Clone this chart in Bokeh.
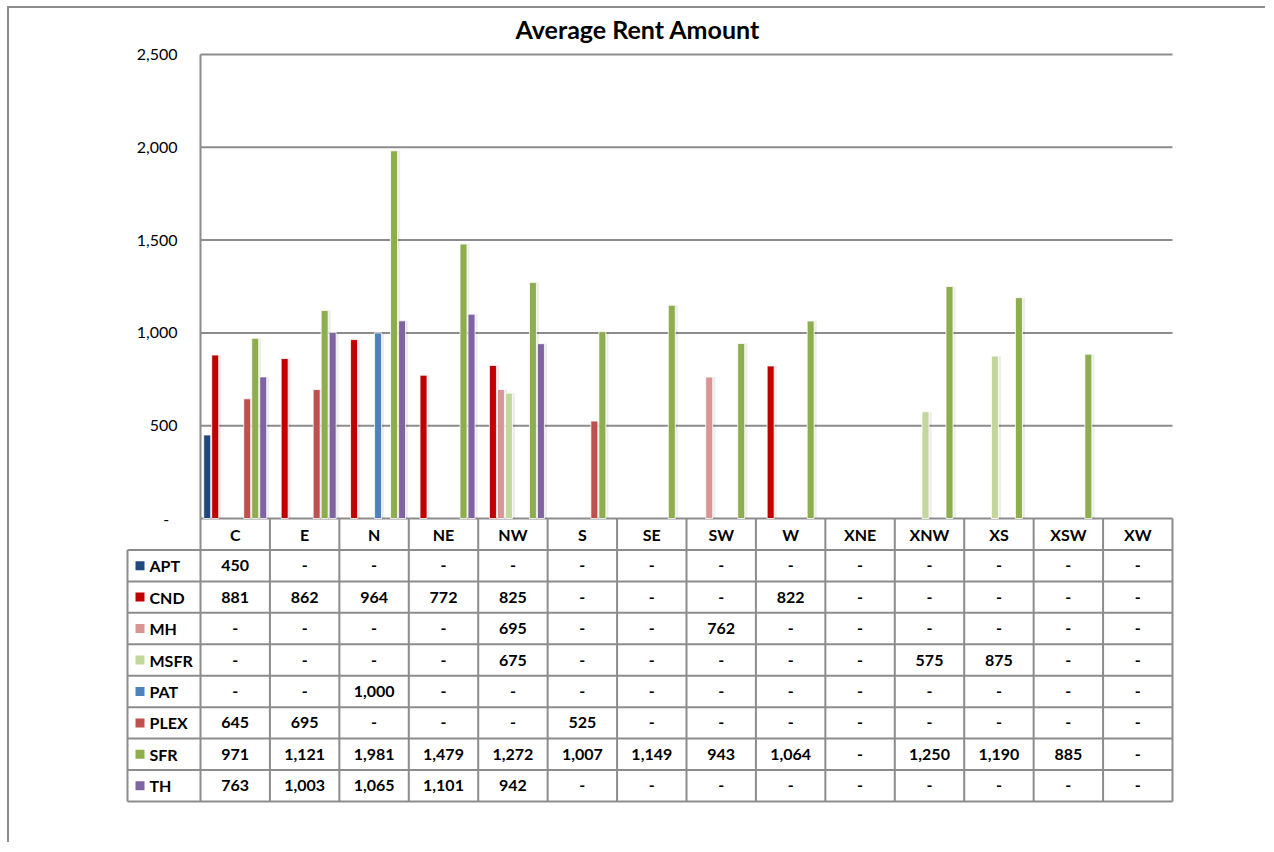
from bokeh.plotting import figure
from bokeh.models import Range1d, ColumnDataSource
from bokeh.embed import file_html
from bokeh.resources import INLINE
from bokeh.core.properties import value

# ---------------- data ----------------
title_text = "Average Rent Amount"
categories = ["C", "E", "N", "NE", "NW", "S", "SE", "SW", "W", "XNE", "XNW", "XS", "XSW", "XW"]
series_names = ["APT", "CND", "MH", "MSFR", "PAT", "PLEX", "SFR", "TH"]
series_colors = ["#1F497D", "#C00000", "#D99594", "#C3D69B", "#4F81BD", "#C0504D", "#8EAD4E", "#8064A2"]

APT = [450, None, None, None, None, None, None, None, None, None, None, None, None, None]
CND = [881, 862, 964, 772, 825, None, None, None, 822, None, None, None, None, None]
MH = [None, None, None, None, 695, None, None, 762, None, None, None, None, None, None]
MSFR = [None, None, None, None, 675, None, None, None, None, None, 575, 875, None, None]
PAT = [None, None, 1000, None, None, None, None, None, None, None, None, None, None, None]
PLEX = [645, 695, None, None, None, 525, None, None, None, None, None, None, None, None]
SFR = [971, 1121, 1981, 1479, 1272, 1007, 1149, 943, 1064, None, 1250, 1190, 885, None]
TH = [763, 1003, 1065, 1101, 942, None, None, None, None, None, None, None, None, None]

y_ticks = [0, 500, 1000, 1500, 2000, 2500]
y_tick_labels = ["-\u00a0\u00a0", "500", "1,000", "1,500", "2,000", "2,500"]

series_values = [APT, CND, MH, MSFR, PAT, PLEX, SFR, TH]

# ---------------- geometry / styling ----------------
FONT = "Lato"
GRID = "#8c8c8c"
n = len(categories)
cat_px = 972 / n                 # pixels per category
slot = 8 / cat_px
bar_w = 7 / cat_px
lab_w = 73 / cat_px              # legend column of the data table
pad_x = 3 / cat_px
k_px = 464 / 2500                # pixels per rent unit
rows = len(series_names) + 1
row_px = 283 / rows
FRAME_TOP = 46

# page origin of the figure: (9, 8); frame spans x 124..1175, y 46..804
p = figure(width=1258, height=836,
           x_range=Range1d(-lab_w - pad_x, n + pad_x),
           y_range=Range1d(-(804 - 518) / k_px, 2500 + (54 - FRAME_TOP) / k_px),
           output_backend="svg", toolbar_location=None,
           x_axis_location=None, y_axis_location=None,
           min_border_left=115, min_border_right=92, min_border_top=FRAME_TOP - 8,
           min_border_bottom=40, title=title_text)
p.extra_y_ranges = {"table": Range1d(-3 / row_px, (801 - FRAME_TOP) / row_px)}
p.outline_line_color = None
p.grid.visible = False

p.title.align = "left"
p.title.offset = 391
p.title.text_font = FONT
p.title.text_font_size = "25px"
p.title.text_font_style = "bold"
p.title.text_color = "black"
p.title.standoff = 6

# gridlines and plot-area left edge
p.segment(x0=[0] * len(y_ticks), x1=[n] * len(y_ticks), y0=y_ticks, y1=y_ticks,
          line_color=GRID, line_width=2)
p.segment(x0=[0], x1=[0], y0=[0], y1=[max(y_ticks)], line_color=GRID, line_width=2)

# y tick labels
p.text(x=[-23 / cat_px] * len(y_ticks), y=y_ticks, text=y_tick_labels,
       text_align="right", text_baseline="middle", text_font=value(FONT),
       text_font_size="16px", text_color="black")

# bars
for s, (name, vals, col) in enumerate(zip(series_names, series_values, series_colors)):
    off = (s - 3.5) * slot
    xs = [i + 0.5 + off for i, v in enumerate(vals) if v is not None]
    tops = [v for v in vals if v is not None]
    src = ColumnDataSource(dict(x=xs, top=tops, xs=[x + 1.6 / cat_px for x in xs]))
    p.vbar(x="xs", top="top", width=bar_w + 2 / cat_px, bottom=0, source=src,
           fill_color="#000000", fill_alpha=0.07, line_color=None)
    p.vbar(x="x", top="top", width=bar_w, bottom=0, source=src,
           fill_color=col, line_color="white", line_width=0.8)

# ---------------- data table ----------------
T = "table"
hy = list(range(0, rows))
p.segment(x0=[-lab_w] * len(hy), x1=[n] * len(hy), y0=hy, y1=hy,
          line_color=GRID, line_width=2, y_range_name=T)
vx = list(range(0, n + 1))
p.segment(x0=vx, x1=vx, y0=[0] * len(vx), y1=[rows] * len(vx),
          line_color=GRID, line_width=2, y_range_name=T)
p.segment(x0=[-lab_w], x1=[-lab_w], y0=[0], y1=[rows - 1],
          line_color=GRID, line_width=2, y_range_name=T)

# header row
p.text(x=[i + 0.5 for i in range(n)], y=[rows - 0.5] * n, text=categories,
       text_align="center", text_baseline="middle", text_font=value(FONT),
       text_font_size="16px", text_font_style="bold", text_color="black", y_range_name=T)

# legend keys and series labels
ry = [rows - r - 1.5 for r in range(len(series_names))]
p.scatter(x=[-lab_w + 12.5 / cat_px] * len(series_names), y=ry, marker="square", size=9,
          fill_color=series_colors, line_color=None, y_range_name=T)
p.text(x=[-lab_w + 22 / cat_px] * len(series_names), y=ry, text=series_names,
       text_align="left", text_baseline="middle", text_font=value(FONT),
       text_font_size="16px", text_font_style="bold", text_color="black", y_range_name=T)

# values
vx_, vy_, vt_ = [], [], []
for r, vals in enumerate(series_values):
    for i, v in enumerate(vals):
        vx_.append(i + 0.5)
        vy_.append(ry[r])
        vt_.append("-" if v is None else f"{v:,}")
p.text(x=vx_, y=vy_, text=vt_, text_align="center", text_baseline="middle",
       text_font=value(FONT), text_font_size="16px", text_font_style="bold",
       text_color="black", y_range_name=T)

p.styles = {"margin-left": "7px", "margin-top": "6px",
            "border-left": "2px solid #8c8c8c", "border-top": "2px solid #8c8c8c"}
open("out.html", "w").write(file_html(p, INLINE))
